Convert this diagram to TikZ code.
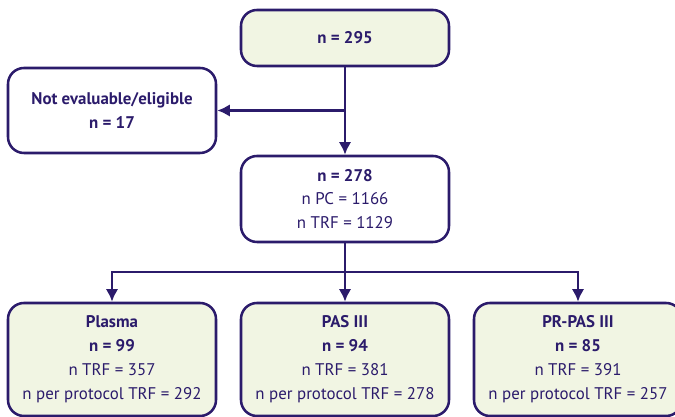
\documentclass[tikz,border=0pt]{standalone}
\usepackage{fontspec}
\setmainfont{PT Sans}
\usepackage{tikz}
\usetikzlibrary{arrows.meta}
\definecolor{navy}{HTML}{2B1B6B}
\definecolor{palegreen}{HTML}{F1F5E3}
\tikzset{
    flowbox/.style={draw=navy, line width=1.8pt, rounded corners=0.4cm, fill=white,
        text=navy, align=center, minimum width=5.2cm, font=\fontsize{12}{17}\selectfont},
    greenbox/.style={flowbox, fill=palegreen},
    flowline/.style={draw=navy, line width=1.8pt},
    flowarrow/.style={flowline, -{Latex[length=9pt,width=9pt]}}
}

\begin{document}
\begin{tikzpicture}
    \useasboundingbox (0,0) rectangle (16.875,10.425);

    \node[greenbox, minimum height=1.4cm] (top) at (8.625,9.475) {\textbf{n = 295}};
    \node[flowbox, minimum height=2.125cm] (excl) at (2.8,7.6625)
        {\textbf{Not evaluable/eligible}\\\textbf{n = 17}};
    \node[flowbox, minimum height=2.15cm] (mid) at (8.625,5.45)
        {\textbf{n = 278}\\n PC = 1166\\n TRF = 1129};

    \node[greenbox, minimum height=2.825cm] (plasma) at (2.8,1.4375)
        {\textbf{Plasma}\\\textbf{n = 99}\\n TRF = 357\\n per protocol TRF = 292};
    \node[greenbox, minimum height=2.825cm] (pas) at (8.625,1.4375)
        {\textbf{PAS III}\\\textbf{n = 94}\\n TRF = 381\\n per protocol TRF = 278};
    \node[greenbox, minimum height=2.825cm] (prpas) at (14.45,1.4375)
        {\textbf{PR-PAS III}\\\textbf{n = 85}\\n TRF = 391\\n per protocol TRF = 257};

    \coordinate (split) at (top.south |- excl.east);
    \coordinate (fork) at (8.625,3.625);

    \draw[flowarrow] (top) -- (mid);
    \draw[flowarrow] (split) -- (excl);
    \draw[flowline] (mid) -- (fork);
    \draw[flowarrow] (fork) -| (plasma);
    \draw[flowarrow] (fork) -- (pas);
    \draw[flowarrow] (fork) -| (prpas);
\end{tikzpicture}
\end{document}
